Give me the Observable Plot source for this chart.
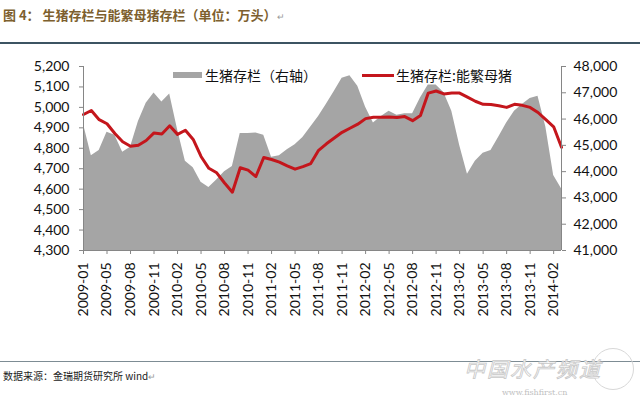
<!DOCTYPE html>
<html><head><meta charset="utf-8">
<script src="https://cdn.jsdelivr.net/npm/d3@7"></script>
<script src="https://cdn.jsdelivr.net/npm/@observablehq/plot@0.6"></script>
<style>
body{margin:0;width:640px;height:399px;position:relative;background:#fff;overflow:hidden;font-family:"Noto Sans CJK SC",sans-serif}
#title{position:absolute;left:3px;top:5px;font-size:13px;font-weight:bold;color:#7d5f2e;white-space:nowrap;line-height:20px}
.pm{font-size:9px;color:#999;font-weight:normal}
#rule1{position:absolute;left:0;top:42px;width:640px;height:2px;background:#3c5462}
#rule2{position:absolute;left:0;top:361px;width:640px;height:1px;background:#7d8c94}
#chart{position:absolute;left:0;top:44px}
#caption{position:absolute;left:3px;top:368px;font-size:10px;color:#222;white-space:nowrap;line-height:16px}
.leg{position:absolute;font-size:14px;color:#111;white-space:nowrap;line-height:18px}
#sw1{position:absolute;left:173px;top:72px;width:29px;height:6px;background:#a5a5a5}
#sw2{position:absolute;left:362px;top:74px;width:32px;height:3px;background:#c4161c}
#wm{position:absolute;left:464px;top:357px;font-size:21px;line-height:22px;font-style:italic;color:#fff;-webkit-text-stroke:0.8px #c8c8c8;white-space:nowrap;letter-spacing:2px}
#wm2{position:absolute;left:502px;top:388px;font-size:8px;line-height:9px;color:#c0c0c0;font-family:"DejaVu Serif",serif;white-space:nowrap}
#globe{position:absolute;left:592px;top:348px;width:42px;height:42px;border-radius:50%;border:1.5px solid #d8d8d8;box-sizing:border-box}
</style></head><body>
<div id="title">图 4： 生猪存栏与能繁母猪存栏（单位：万头）<span class="pm">↵</span></div>
<div id="rule1"></div>
<div id="chart"></div>
<div id="rule2"></div>
<div id="globe"></div>
<div id="wm">中国水产频道</div>
<div id="wm2">www.fishfirst.cn</div>
<div id="caption">数据来源：金瑞期货研究所 wind<span class="pm">↵</span></div>
<div id="sw1"></div><div class="leg" style="left:205px;top:66px">生猪存栏（右轴）</div>
<div id="sw2"></div><div class="leg" style="left:396px;top:66px">生猪存栏:能繁母猪</div>
<script>
const months = ["2009-01","2009-03","2009-04","2009-05","2009-06","2009-07","2009-08","2009-09","2009-10","2009-11","2009-12",
"2010-01","2010-02","2010-03","2010-04","2010-05","2010-06","2010-07","2010-08","2010-09","2010-10","2010-11","2010-12",
"2011-01","2011-02","2011-03","2011-04","2011-05","2011-06","2011-07","2011-08","2011-09","2011-10","2011-11","2011-12",
"2012-01","2012-02","2012-03","2012-04","2012-05","2012-06","2012-07","2012-08","2012-09","2012-10","2012-11","2012-12",
"2013-01","2013-02","2013-03","2013-04","2013-05","2013-06","2013-07","2013-08","2013-09","2013-10","2013-11","2013-12",
"2014-01","2014-02","2014-03"];
// 生猪存栏（右轴）
const hogStock = [45800,44600,44800,45500,45380,44740,44930,45900,46600,46990,46650,
46950,45600,44400,44150,43600,43400,43680,44000,44200,45450,45450,45470,
45380,44550,44600,44830,45020,45300,45700,46100,46560,47050,47550,47650,
47250,46450,45850,46100,46300,46150,46200,46200,46800,47300,47300,47000,
46300,45000,43900,44400,44700,44800,45320,45850,46300,46550,46780,46870,
45700,43850,43350];
// 生猪存栏:能繁母猪（左轴）
const sowStock = [4965,4985,4940,4920,4872,4832,4810,4815,4838,4875,4870,
4910,4868,4888,4843,4760,4702,4680,4630,4585,4705,4693,4662,
4755,4745,4732,4714,4698,4710,4725,4790,4822,4850,4878,4898,
4918,4945,4952,4952,4953,4950,4955,4935,4960,5070,5080,5066,
5070,5070,5050,5030,5015,5014,5008,5000,5015,5010,5000,4975,
4940,4905,4805];
const leftTicks = [4300,4400,4500,4600,4700,4800,4900,5000,5100,5200];
const rightTicks = [41000,42000,43000,44000,45000,46000,47000,48000];
const xTicks = months.filter((d, i) => i % 3 === 0);

const L0 = 4300, L1 = 5200, R0 = 41000, R1 = 48000;
const toLeft = v => L0 + (v - R0) * (L1 - L0) / (R1 - R0);
const fromLeft = v => R0 + (v - L0) * (R1 - R0) / (L1 - L0);
const fmt = d3.format(",");
const data = months.map((m, i) => ({m, hog: hogStock[i], sow: sowStock[i]}));
const axisColor = "#868686";

const chart = Plot.plot({
  width: 640, height: 318,
  marginLeft: 83, marginRight: 79, marginTop: 22, marginBottom: 112,
  style: {fontFamily: "Lato, 'Noto Sans', sans-serif", fontSize: "14px", color: "#111", background: "transparent"},
  x: {type: "point", domain: months, padding: 0},
  y: {domain: [L0, L1]},
  marks: [
    Plot.areaY(data, {x: "m", y1: L0, y2: d => toLeft(d.hog), fill: "#a5a5a5"}),
    Plot.lineY(data, {x: "m", y: "sow", stroke: "#c4161c", strokeWidth: 3, strokeLinejoin: "round"}),
    Plot.ruleX([months[0], months[months.length - 1]], {stroke: axisColor}),
    Plot.ruleY([L0], {stroke: axisColor}),
    Plot.axisY(leftTicks, {anchor: "left", tickSize: 4, tickPadding: 10, tickFormat: fmt, stroke: axisColor, fill: "#111", label: null}),
    Plot.axisY(rightTicks.map(toLeft), {anchor: "right", tickSize: 4, tickPadding: 8, tickFormat: d => fmt(Math.round(fromLeft(d))), stroke: axisColor, fill: "#111", label: null}),
    Plot.axisX(xTicks, {anchor: "bottom", tickRotate: -90, tickSize: 4, tickPadding: 8, stroke: axisColor, fill: "#111", label: null})
  ]
});
document.getElementById("chart").appendChild(chart);
</script>
</body></html>
